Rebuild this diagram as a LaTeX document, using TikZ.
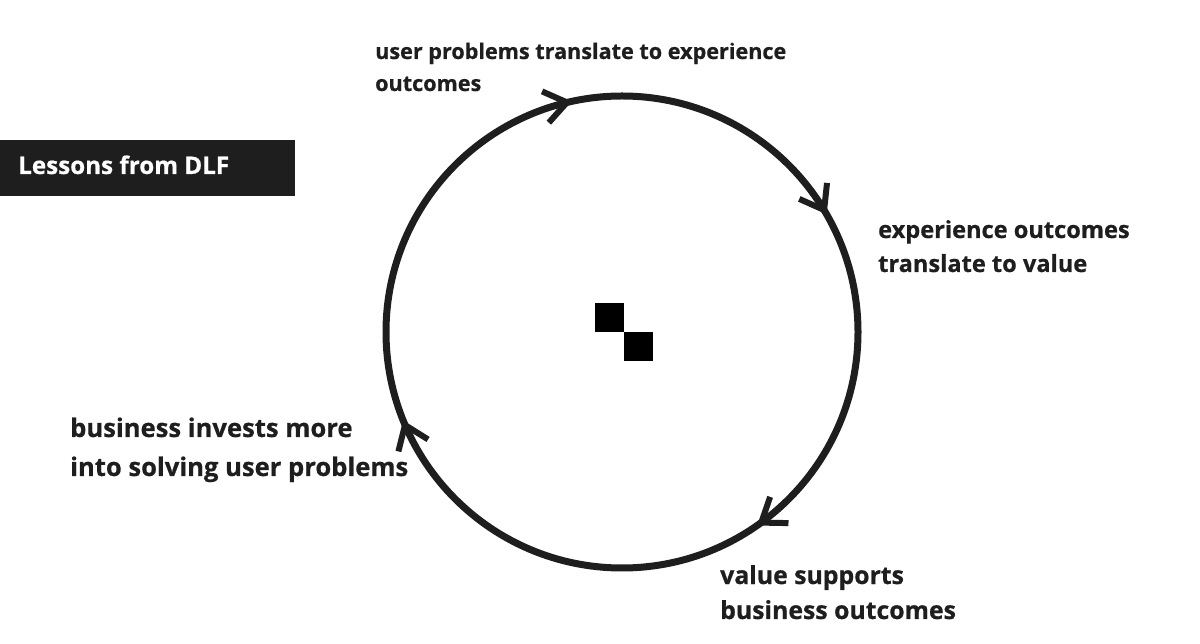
\documentclass[tikz,border=0pt]{standalone}
\usepackage{fontspec}
\setmainfont{Open Sans}[BoldFeatures={FakeBold=0.6}]
\usetikzlibrary{arrows.meta,decorations.markings}
\definecolor{ink}{RGB}{30,30,30}
\begin{document}
\begin{tikzpicture}[x=1pt,y=1pt,
  lbl/.style={anchor=base west,align=left,inner sep=0,text=ink},
  barb/.tip={Straight Barb[length=22pt,width=32pt,line width=6pt]},
  cyc/.style={draw=ink,line width=7pt,
    postaction={decorate,decoration={markings,
      mark=at position 0.153 with {\arrow[ink]{barb}},
      mark=at position 0.439 with {\arrow[ink]{barb}},
      mark=at position 0.716 with {\arrow[ink]{barb}},
      mark=at position 0.917 with {\arrow[ink]{barb}}}}}]
\useasboundingbox (0,0) rectangle (1200,643);
% cycle circle, drawn clockwise
\coordinate (c) at (622,311);
\draw[cyc] (c) ++(0:236) arc[start angle=0,end angle=-360,radius=236];
% banner
\node[fill=ink,minimum width=295,minimum height=56,inner sep=0,anchor=north west] (banner) at (0,503) {};
\node[anchor=base west,inner sep=0,text=white,font=\bfseries\fontsize{24.2}{28}\selectfont] (title) at (18,469) {Lessons from DLF};
% center icon
\fill (595,340) rectangle (624,311);
\fill (624,311) rectangle (653,282);
% labels
\node[lbl,font=\bfseries\fontsize{21.6}{32}\selectfont] (l1) at (375,552) {user problems translate to experience\\outcomes};
\node[lbl,font=\bfseries\fontsize{23.6}{34}\selectfont] (l2) at (878,371) {experience outcomes\\translate to value};
\node[lbl,font=\bfseries\fontsize{24.8}{35}\selectfont] (l3) at (720,24) {value supports\\business outcomes};
\node[lbl,font=\bfseries\fontsize{25.6}{37}\selectfont] (l4) at (70,167) {business invests more\\[2pt]into solving user problems};
\end{tikzpicture}
\end{document}
